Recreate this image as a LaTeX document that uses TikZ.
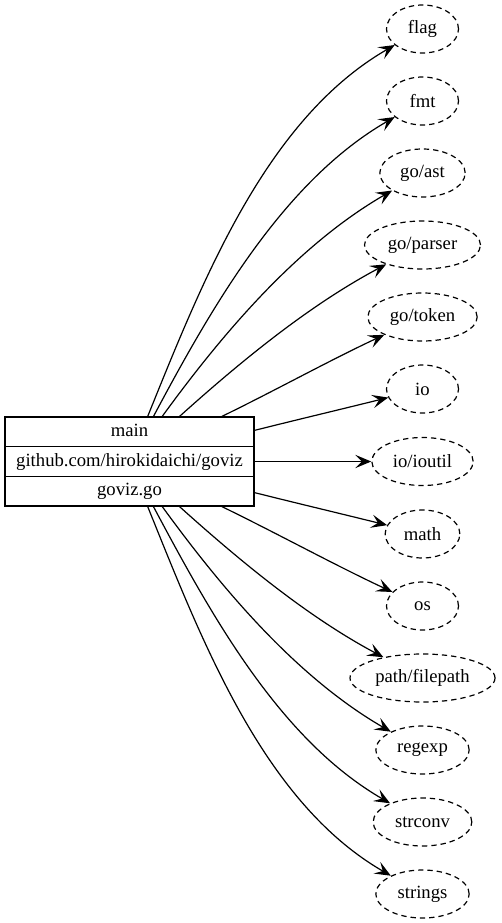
\documentclass[tikz,border=0pt]{standalone}
\usepackage{fontspec}
\setmainfont{Liberation Serif}
\usetikzlibrary{positioning, arrows.meta, shapes.geometric}

\tikzset{
    pkgrow/.style={draw, rectangle, minimum width=186.75pt, minimum height=22.25pt,
        inner sep=0pt, outer sep=0pt, text height=10pt, text depth=3pt},
    importpkg/.style={draw, dash pattern=on 4pt off 3pt, ellipse, minimum width=#1,
        minimum height=36pt, inner xsep=2pt, inner ysep=2pt},
    importpkg/.default=54pt,
    imports/.style={-{Stealth[length=12pt, width=10pt, inset=5pt]}, looseness=0.85},
}

\begin{document}
\begin{tikzpicture}[x=0.75pt, y=0.75pt, line width=0.9pt,
    font=\fontsize{14}{16}\selectfont]
    \useasboundingbox (0,0) rectangle (501,-923);

    % the go file record
    \node[minimum width=186.75pt, minimum height=66.75pt, inner sep=0pt] (gofile) at (129.5,-461.5) {};
    \node[pkgrow] (pkgname) at (gofile.center) {github.com/hirokidaichi/goviz};
    \node[pkgrow, above=0pt of pkgname] (mainpkg) {main};
    \node[pkgrow, below=0pt of pkgname] (filename) {goviz.go};

    % imported packages
    \node[importpkg] (flag) at (422.5,-29) {flag};
    \node[importpkg] (fmt) at (422.5,-101) {fmt};
    \node[importpkg=64pt] (goast) at (422.5,-173) {go/ast};
    \node[importpkg=87pt] (goparser) at (422.5,-245) {go/parser};
    \node[importpkg=82pt] (gotoken) at (422.5,-317) {go/token};
    \node[importpkg] (io) at (422.5,-389) {io};
    \node[importpkg=76pt] (ioutil) at (422.5,-461.5) {io/ioutil};
    \node[importpkg=56pt] (math) at (422.5,-534) {math};
    \node[importpkg] (os) at (422.5,-606) {os};
    \node[importpkg=108.75pt] (filepath) at (422.5,-678) {path/filepath};
    \node[importpkg=70pt] (regexp) at (422.5,-750) {regexp};
    \node[importpkg=74pt] (strconv) at (422.5,-822) {strconv};
    \node[importpkg=70pt] (strings) at (422.5,-894) {strings};

    % import edges
    \draw[imports] (gofile) to[out=68, in=210] (flag);
    \draw[imports] (gofile) to[out=62, in=210] (fmt);
    \draw[imports] (gofile) to[out=54, in=210] (goast);
    \draw[imports] (gofile) to[out=42, in=208] (goparser);
    \draw[imports] (gofile) to[out=26, in=205] (gotoken);
    \draw[imports] (gofile) to[out=14, in=194] (io);
    \draw[imports] (gofile) to[out=0, in=180] (ioutil);
    \draw[imports] (gofile) to[out=-14, in=166] (math);
    \draw[imports] (gofile) to[out=-26, in=155] (os);
    \draw[imports] (gofile) to[out=-42, in=152] (filepath);
    \draw[imports] (gofile) to[out=-54, in=150] (regexp);
    \draw[imports] (gofile) to[out=-62, in=150] (strconv);
    \draw[imports] (gofile) to[out=-68, in=150] (strings);
\end{tikzpicture}
\end{document}
